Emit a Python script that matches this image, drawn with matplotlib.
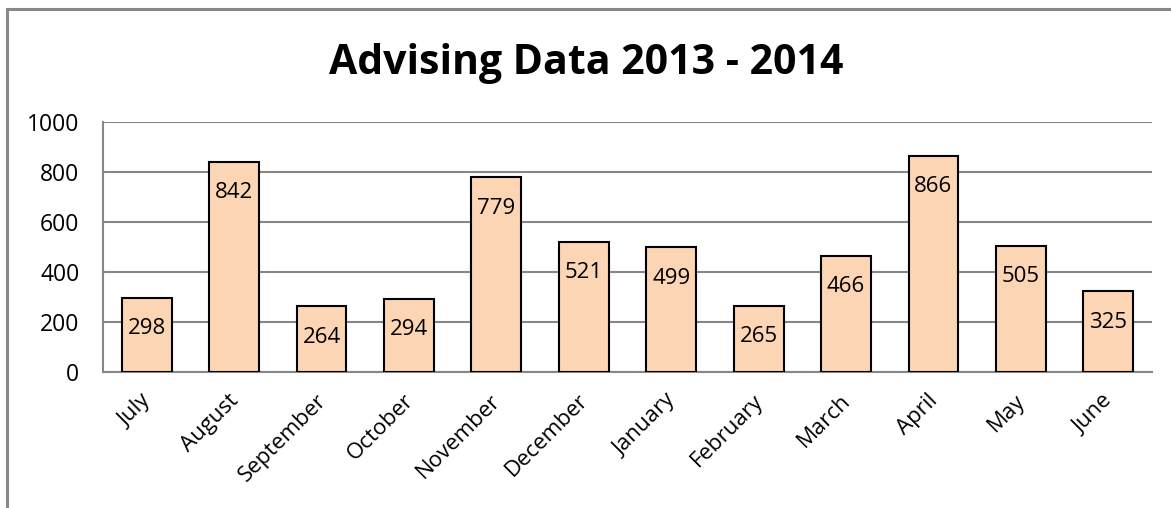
import matplotlib
matplotlib.use("Agg")
import matplotlib.pyplot as plt
import matplotlib.transforms as mtransforms
from matplotlib.patches import Rectangle

months = ["July", "August", "September", "October", "November", "December",
          "January", "February", "March", "April", "May", "June"]
counts = [298, 842, 264, 294, 779, 521, 499, 265, 466, 866, 505, 325]
yticks = [0, 200, 400, 600, 800, 1000]

plt.rcParams['font.family'] = ['Open Sans', 'DejaVu Sans']

fig = plt.figure(figsize=(11.71, 5.08), dpi=100)
W, H = 1171, 508

# outer chart frame (cut off on right and bottom like the screenshot)
fig.patches.append(Rectangle((6.5 / W, -0.1), 1.2, (H - 9.5) / H + 0.1,
                             transform=fig.transFigure, fill=False,
                             edgecolor='#888888', linewidth=2.2))

ax = fig.add_axes([103 / W, (H - 372) / H, (1152 - 103) / W, (372 - 122) / H])

x = range(len(months))
bars = ax.bar(x, counts, width=0.57, color='#FCD5B5', edgecolor='black',
              linewidth=1.5, zorder=3)

for xi, v in zip(x, counts):
    ax.annotate(str(v), (xi, v), xytext=(0, -22.5), textcoords='offset points',
                ha='center', va='center', fontsize=16, zorder=4)

ax.set_xlim(-0.5, len(months) - 0.5)
ax.set_ylim(0, 1000)
ax.set_yticks(yticks)
ax.set_yticklabels([str(t) for t in yticks], fontsize=16.5)
ax.set_xticks(list(x))
ax.set_xticklabels(months, rotation=45, ha='right', rotation_mode='anchor',
                   fontsize=16)
ax.tick_params(axis='y', length=0, pad=17)
ax.tick_params(axis='x', length=0, pad=13)

# nudge month labels a bit to the left
shift = mtransforms.ScaledTranslation(-0.06, 0, fig.dpi_scale_trans)
for lbl in ax.get_xticklabels():
    lbl.set_transform(lbl.get_transform() + shift)

ax.grid(axis='y', color='#878787', linewidth=1.5, zorder=0)
for side in ['top', 'right']:
    ax.spines[side].set_visible(False)
ax.spines['left'].set_color('#878787')
ax.spines['left'].set_linewidth(1.5)
ax.spines['bottom'].set_color('#878787')
ax.spines['bottom'].set_linewidth(1.5)

fig.text(586 / W, (H - 64) / H, "Advising Data 2013 - 2014", ha='center',
         va='center', fontsize=29.5, fontweight='bold')

fig.savefig("out.png", dpi=100)
